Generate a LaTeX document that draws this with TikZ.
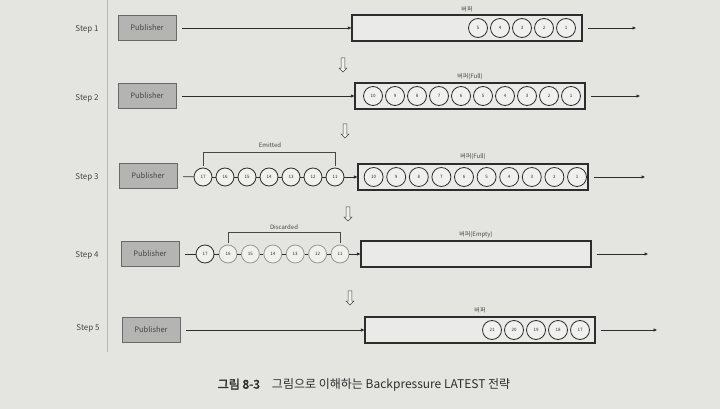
\documentclass[tikz,border=0pt]{standalone}
\usepackage{fontspec}
\setmainfont{Noto Sans CJK KR}
\newfontfamily\capbold[FakeBold=2.5]{Noto Sans CJK KR}
\usetikzlibrary{arrows.meta,shapes.arrows}
\definecolor{pagebg}{RGB}{228,228,225}
\definecolor{pubfill}{RGB}{180,180,178}
\definecolor{publine}{RGB}{105,105,105}
\definecolor{buffill}{RGB}{234,234,232}
\definecolor{itemfill}{RGB}{240,240,238}
\definecolor{inkdark}{RGB}{45,45,45}
\definecolor{inkgray}{RGB}{70,70,70}
\definecolor{dropline}{RGB}{150,150,150}
\definecolor{rule}{RGB}{185,185,185}
\tikzset{
  pub/.style={draw=publine, fill=pubfill, line width=0.6pt, minimum width=58pt,
    minimum height=25pt, inner sep=0pt, text=inkgray, font=\fontsize{7.5}{8}\selectfont},
  buffer/.style={draw=inkdark, fill=buffill, line width=1.1pt, minimum width=230pt,
    minimum height=26pt, inner sep=0pt},
  item/.style={circle, draw=inkdark, fill=itemfill, line width=0.8pt, minimum size=19pt,
    inner sep=0pt, text=inkdark, font=\fontsize{4.5}{5}\selectfont},
  chain/.style={item, minimum size=18pt},
  dropped/.style={chain, draw=dropline},
  steplabel/.style={text=inkgray, font=\fontsize{8}{9}\selectfont},
  buflabel/.style={text=inkgray, font=\fontsize{6}{7}\selectfont},
  nextstep/.style={single arrow, draw=inkgray, fill=itemfill, line width=0.5pt,
    shape border rotate=270, minimum height=14pt, inner sep=1.6pt,
    single arrow head extend=2pt},
  flow/.style={draw=inkdark, line width=0.8pt},
  >={Triangle[length=3.5pt,width=3pt]}
}
\begin{document}
\begin{tikzpicture}[x=1pt,y=-1pt]
\useasboundingbox (0,0) rectangle (720,409);
\fill[pagebg] (0,0) rectangle (720,409);
\draw[rule, line width=0.7pt] (107,0) -- (107,352);

% step 1
\node[steplabel] (s1) at (87,29) {Step 1};
\node[pub] (pub1) at (147,28) {Publisher};
\node[buffer] (buf1) at (467,28) {};
\node[buflabel] (lab1) at (467,9) {버퍼};
\foreach \k in {1,...,5}
  \node[item] (b1-\k) at (566-22*\k+22,28) {\k};
\coordinate (out1) at (636,28);
\draw[flow,->,shorten <=6pt] (pub1) -- (buf1);
\draw[flow,->,shorten <=5pt] (buf1) -- (out1);
\node[nextstep] (n1) at (343,64) {};

% step 2
\node[steplabel] (s2) at (87,98) {Step 2};
\node[pub] (pub2) at (147,96) {Publisher};
\node[buffer] (buf2) at (470,96) {};
\node[buflabel] (lab2) at (470,77) {버퍼(Full)};
\foreach \k in {1,...,10}
  \node[item] (b2-\k) at (571-22*\k+22,96) {\k};
\coordinate (out2) at (640,96);
\draw[flow,->,shorten <=6pt] (pub2) -- (buf2);
\draw[flow,->,shorten <=5pt] (buf2) -- (out2);
\node[nextstep] (n2) at (345,130) {};

% step 3
\node[steplabel] (s3) at (87,177) {Step 3};
\node[pub] (pub3) at (148,176) {Publisher};
\foreach \k in {11,...,17}
  \node[chain] (e\k) at (335-22*\k+242,177) {\k};
\node[buffer] (buf3) at (473,177) {};
\node[buflabel] (lab3) at (473,157) {버퍼(Full)};
\foreach \k in {1,...,10}
  \node[item] (b3-\k) at (577-22.6*\k+22.6,177) {\k};
\coordinate (out3) at (645,177);
\draw[flow,shorten <=6pt] (pub3) -- (e17);
\draw[flow] (e17) -- (e16);
\draw[flow] (e16) -- (e15);
\draw[flow] (e15) -- (e14);
\draw[flow] (e14) -- (e13);
\draw[flow] (e13) -- (e12);
\draw[flow] (e12) -- (e11);
\draw[flow,->] (e11) -- (buf3);
\draw[flow,->,shorten <=5pt] (buf3) -- (out3);
\draw[inkgray, line width=0.6pt] ([yshift=2pt]e17.north) -- ++(0,13pt) -| ([yshift=2pt]e11.north);
\node[buflabel] (emitted) at (270,145) {Emitted};
\node[nextstep] (n3) at (348,213) {};

% step 4
\node[steplabel] (s4) at (87,255) {Step 4};
\node[pub] (pub4) at (150,254) {Publisher};
\node[chain] (d17) at (205,254) {17};
\foreach \k in {11,...,16}
  \node[dropped] (d\k) at (340-22.4*\k+246.4,254) {\k};
\node[buffer] (buf4) at (476,254) {};
\node[buflabel] (lab4) at (476,235) {버퍼(Empty)};
\coordinate (out4) at (648,254);
\draw[flow,shorten <=6pt] (pub4) -- (d17);
\draw[flow] (d17) -- (d16);
\draw[flow] (d16) -- (d15);
\draw[flow] (d15) -- (d14);
\draw[flow] (d14) -- (d13);
\draw[flow] (d13) -- (d12);
\draw[flow] (d12) -- (d11);
\draw[flow,->] (d11) -- (buf4);
\draw[flow,->,shorten <=5pt] (buf4) -- (out4);
\draw[inkgray, line width=0.6pt] ([yshift=2pt]d16.north) -- ++(0,10pt) -| ([yshift=2pt]d11.north);
\node[buflabel] (discarded) at (284,227) {Discarded};
\node[nextstep] (n4) at (350,297) {};

% step 5
\node[steplabel] (s5) at (88,328) {Step 5};
\node[pub] (pub5) at (151,330) {Publisher};
\node[buffer] (buf5) at (480,330) {};
\node[buflabel] (lab5) at (480,310) {버퍼};
\foreach \k in {17,...,21}
  \node[item] (b5-\k) at (580-22*\k+374,330) {\k};
\coordinate (out5) at (657,330);
\draw[flow,->,shorten <=6pt] (pub5) -- (buf5);
\draw[flow,->,shorten <=5pt] (buf5) -- (out5);

\node[text=inkdark, font=\fontsize{12}{14}\selectfont] (caption) at (364,385)
  {{\capbold 그림 8-3}\hspace{12pt}그림으로 이해하는 Backpressure LATEST 전략};
\end{tikzpicture}
\end{document}
